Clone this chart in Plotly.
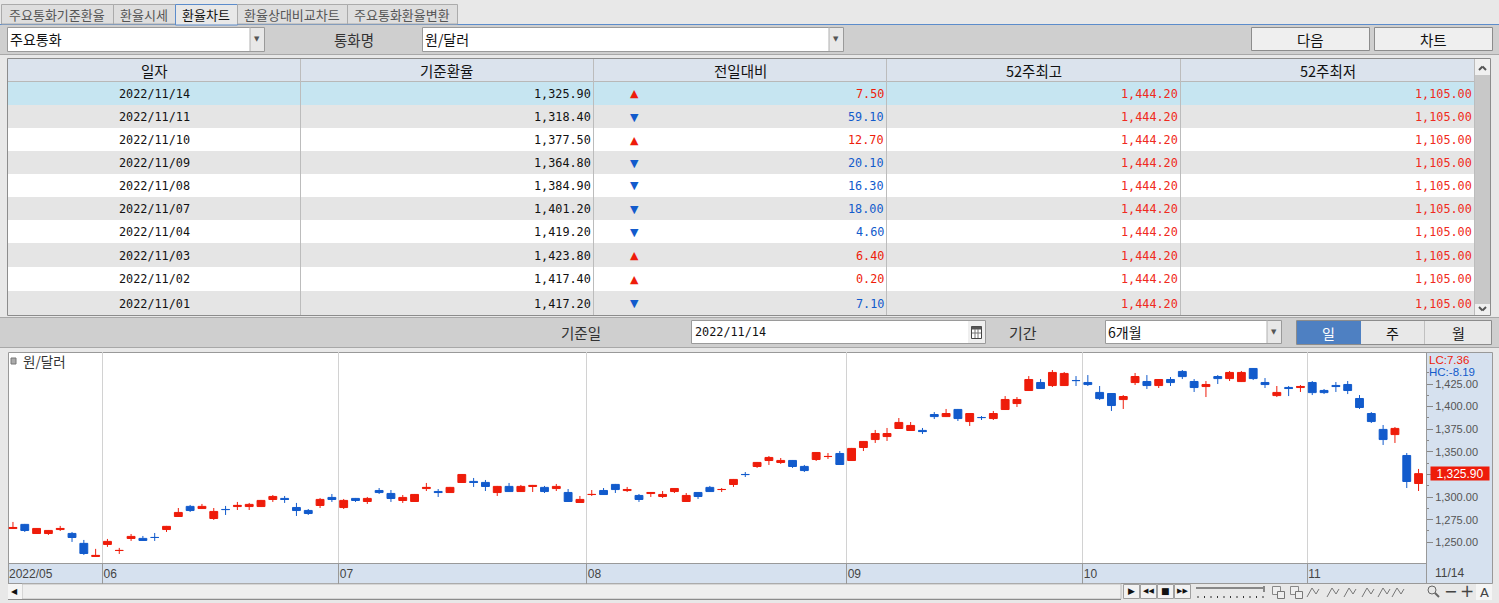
import plotly.graph_objects as go

W, H = 1499, 603
MONO = "DejaVu Sans Mono, Noto Sans CJK KR"
KR = "Noto Sans CJK KR, DejaVu Sans"
SANS = "Liberation Sans, Noto Sans CJK KR"
RED = "#ee1c0a"
BLUE = "#125bcc"

# chart data, one candle per trading day
opens = [
    1265.2, 1269.8, 1259.7, 1259.7, 1264.1, 1259.8, 1248.8, 1234.3, 1247.6, 1240.9,
    1254.2, 1254.3, 1255.4, 1264.1, 1278.5, 1289.7, 1287.3, 1276.3, 1286.3, 1289.5,
    1289.5, 1289.5, 1297.3, 1298.5, 1288.5, 1285.2, 1290.7, 1299.6, 1288.4, 1298.5,
    1295.1, 1307.3, 1304.0, 1296.2, 1295.1, 1309.4, 1306.2, 1305.0, 1316.1, 1317.3,
    1316.2, 1305.0, 1311.8, 1306.1, 1311.7, 1310.7, 1309.4, 1305.1, 1294.0, 1302.8,
    1307.3, 1314.0, 1307.2, 1301.8, 1303.9, 1300.6, 1306.1, 1295.1, 1305.1, 1310.7,
    1308.3, 1313.9, 1325.0, 1333.8, 1340.4, 1338.2, 1340.5, 1333.9, 1341.5, 1344.8,
    1348.2, 1340.4, 1354.8, 1363.6, 1366.9, 1375.8, 1373.6, 1373.7, 1391.3, 1389.0,
    1396.9, 1383.5, 1388.0, 1386.8, 1396.8, 1403.4, 1417.8, 1426.7, 1423.3, 1423.3,
    1428.9, 1426.7, 1415.7, 1414.5, 1407.8, 1426.6, 1427.8, 1423.3, 1430.0, 1438.9,
    1427.8, 1422.2, 1433.3, 1431.0, 1427.7, 1442.2, 1426.7, 1412.2, 1421.2, 1421.1,
    1426.7, 1417.9, 1423.4, 1424.5, 1409.0, 1392.4, 1374.8, 1369.1, 1346.0, 1315.0,
]
highs = [
    1272.5, 1270.3, 1265.8, 1263.6, 1268.1, 1261.4, 1252.6, 1242.7, 1253.7, 1243.8,
    1259.2, 1257.0, 1260.3, 1268.1, 1287.9, 1291.3, 1292.4, 1287.9, 1290.2, 1294.6,
    1293.5, 1296.8, 1302.3, 1301.2, 1293.5, 1286.8, 1299.0, 1303.4, 1297.9, 1299.0,
    1300.1, 1310.0, 1307.8, 1302.3, 1303.4, 1315.6, 1308.9, 1311.2, 1325.5, 1321.1,
    1318.9, 1312.3, 1315.6, 1313.4, 1313.4, 1312.3, 1314.5, 1308.9, 1301.2, 1307.8,
    1310.0, 1314.5, 1311.2, 1303.4, 1305.6, 1306.7, 1310.0, 1304.5, 1305.6, 1312.3,
    1310.0, 1320.0, 1327.7, 1338.8, 1345.4, 1343.2, 1341.0, 1335.5, 1349.8, 1348.7,
    1350.9, 1354.3, 1362.0, 1374.2, 1376.4, 1387.4, 1383.0, 1376.4, 1394.0, 1397.4,
    1397.4, 1392.9, 1389.6, 1395.2, 1411.7, 1410.6, 1433.8, 1430.5, 1440.5, 1438.3,
    1433.8, 1434.9, 1422.8, 1415.0, 1412.8, 1437.2, 1434.9, 1430.5, 1432.7, 1440.5,
    1430.5, 1428.3, 1434.9, 1439.4, 1439.4, 1442.7, 1431.6, 1422.8, 1422.8, 1423.9,
    1428.3, 1419.5, 1427.2, 1428.3, 1412.8, 1394.0, 1379.7, 1377.5, 1348.7, 1331.1,
]
lows = [
    1264.7, 1261.4, 1259.2, 1258.1, 1262.5, 1250.4, 1236.0, 1233.8, 1244.9, 1237.1,
    1251.5, 1251.5, 1251.5, 1261.4, 1278.0, 1283.5, 1286.8, 1274.7, 1280.2, 1285.7,
    1285.7, 1289.0, 1294.6, 1293.5, 1279.1, 1280.2, 1287.9, 1294.6, 1286.8, 1294.6,
    1292.4, 1303.4, 1294.6, 1293.5, 1294.6, 1306.7, 1300.1, 1304.5, 1315.6, 1311.2,
    1306.7, 1301.2, 1305.6, 1305.6, 1305.6, 1304.5, 1306.7, 1294.6, 1293.5, 1301.2,
    1302.3, 1304.5, 1305.6, 1294.6, 1300.1, 1299.0, 1304.5, 1294.6, 1297.9, 1305.6,
    1305.6, 1311.2, 1322.2, 1332.2, 1335.5, 1336.6, 1332.2, 1327.7, 1339.9, 1342.1,
    1335.5, 1339.9, 1350.9, 1359.8, 1362.0, 1375.3, 1373.1, 1369.7, 1386.3, 1388.5,
    1384.1, 1378.6, 1385.2, 1385.2, 1396.3, 1399.6, 1417.3, 1419.5, 1421.7, 1422.8,
    1422.8, 1422.8, 1407.3, 1395.2, 1397.4, 1423.9, 1419.5, 1420.6, 1422.8, 1430.5,
    1416.2, 1410.6, 1425.0, 1428.3, 1427.2, 1429.4, 1420.6, 1410.6, 1411.7, 1416.2,
    1412.8, 1413.9, 1416.2, 1413.9, 1397.4, 1381.9, 1357.6, 1359.8, 1310.0, 1306.7,
]
closes = [
    1266.4, 1263.0, 1265.3, 1263.1, 1265.3, 1255.3, 1237.6, 1235.5, 1251.0, 1241.0,
    1256.5, 1252.0, 1255.3, 1267.6, 1283.0, 1285.1, 1289.7, 1284.1, 1286.2, 1290.8,
    1291.9, 1296.3, 1300.7, 1297.3, 1285.1, 1281.8, 1297.4, 1297.3, 1296.3, 1296.2,
    1298.5, 1305.0, 1298.4, 1299.6, 1302.9, 1310.7, 1305.0, 1310.7, 1325.0, 1316.1,
    1311.7, 1311.8, 1306.1, 1311.8, 1312.9, 1306.1, 1311.8, 1295.1, 1297.4, 1302.9,
    1302.8, 1308.3, 1308.4, 1297.3, 1305.1, 1302.9, 1309.5, 1301.8, 1300.6, 1306.1,
    1308.4, 1319.5, 1324.9, 1338.3, 1343.8, 1340.5, 1333.8, 1329.3, 1349.3, 1344.9,
    1336.0, 1353.8, 1361.5, 1370.3, 1370.3, 1382.5, 1379.2, 1372.4, 1389.0, 1392.4,
    1386.8, 1392.4, 1387.9, 1392.4, 1407.9, 1407.9, 1430.0, 1420.0, 1437.8, 1436.7,
    1428.8, 1424.4, 1408.9, 1401.2, 1411.2, 1433.3, 1423.3, 1430.0, 1426.6, 1433.2,
    1421.1, 1424.5, 1431.0, 1437.8, 1437.8, 1431.0, 1424.4, 1415.7, 1420.0, 1422.3,
    1415.5, 1415.5, 1422.2, 1417.8, 1399.0, 1383.5, 1363.6, 1375.9, 1317.2, 1325.9,
]
month_first = [0, 8, 28, 49, 71, 91, 110]
month_labels = ["2022/05", "06", "07", "08", "09", "10", "11"]
price_ticks = [1250, 1275, 1300, 1325, 1350, 1375, 1400, 1425]
# 1,325.00 sits under the last price flag in the original
price_labels = ["1,250.00", "1,275.00", "1,300.00", "", "1,350.00", "1,375.00", "1,400.00", "1,425.00"]

# table data
columns = ["일자", "기준환율", "전일대비", "52주최고", "52주최저"]
dates = ["2022/11/14", "2022/11/11", "2022/11/10", "2022/11/09", "2022/11/08",
         "2022/11/07", "2022/11/04", "2022/11/03", "2022/11/02", "2022/11/01"]
rates = ["1,325.90", "1,318.40", "1,377.50", "1,364.80", "1,384.90",
         "1,401.20", "1,419.20", "1,423.80", "1,417.40", "1,417.20"]
changes = ["7.50", "59.10", "12.70", "20.10", "16.30", "18.00", "4.60", "6.40", "0.20", "7.10"]
up_flags = [True, False, True, False, False, False, False, True, True, False]
high_52 = "1,444.20"
low_52 = "1,105.00"

tabs = ["주요통화기준환율", "환율시세", "환율차트", "환율상대비교차트", "주요통화환율변환"]
tab_edges = [1, 113, 175, 237, 347, 457]

shapes = []
notes = []


def fx(x):
    return x / W


def fy(y):
    return 1 - y / H


def box(x0, y0, x1, y1, fill=None, line=None, kind="rect"):
    shapes.append(dict(type=kind, xref="paper", yref="paper", layer="below",
                       x0=fx(x0), x1=fx(x1), y0=fy(y0), y1=fy(y1),
                       fillcolor=fill or "rgba(0,0,0,0)",
                       line=dict(color=line or "rgba(0,0,0,0)", width=1 if line else 0)))


def seg(x0, y0, x1, y1, color="#999999", width=1):
    shapes.append(dict(type="line", xref="paper", yref="paper", layer="below",
                       x0=fx(x0), x1=fx(x1), y0=fy(y0), y1=fy(y1),
                       line=dict(color=color, width=width)))


def text(x, y, s, anchor="center", color="#111111", size=14, font=KR, **kw):
    notes.append(dict(x=fx(x), y=fy(y), xref="paper", yref="paper", text=s, showarrow=False,
                      xanchor=anchor, yanchor="middle", borderpad=0,
                      font=dict(family=font, size=size, color=color), **kw))


# top strip and tabs
box(0, 25, W, 54, "#cfcfcf")
seg(0, 54.5, W, 54.5, "#a8a8a8")
seg(0, 24.5, W, 24.5, "#5c8ccb", 1)
for i, name in enumerate(tabs):
    active = i == 2
    box(tab_edges[i] + 0.5, 4.5, tab_edges[i + 1] + 0.5, 25 if active else 24,
        "#e8e8e8" if active else "#dedede", "#5c8ccb" if active else "#ababab")
    text((tab_edges[i] + tab_edges[i + 1]) / 2, 14.5, name, color="#111111" if active else "#555555", size=13)


def combo(x0, y0, x1, y1, s):
    box(x0 + 0.5, y0 + 0.5, x1 + 0.5, y1 + 0.5, "#ffffff", "#9a9a9a")
    box(x1 - 14, y0 + 1, x1, y1, "#e8e8e8", None)
    seg(x1 - 14, y0, x1 - 14, y1, "#b0b0b0")
    text(x1 - 7, (y0 + y1) / 2 + 0.5, "▼", size=7, color="#555555", font="DejaVu Sans")
    text(x0 + 2, (y0 + y1) / 2, s, anchor="left", size=14, font=KR)


combo(7, 27, 264, 51, "주요통화")
combo(422, 27, 843, 51, "원/달러")
text(354, 39, "통화명", color="#333333", size=14.5)
for x0, x1, s in [(1251, 1369, "다음"), (1374, 1492, "차트")]:
    box(x0 + 0.5, 27.5, x1 + 0.5, 50.5, "#efefef", "#8c8c8c")
    text((x0 + x1) / 2, 39.5, s, size=14.5)

# table
row_tops = [82, 105, 128, 151, 174, 197, 220, 243, 267, 291, 315]
col_edges = [7.5, 300.5, 593.5, 886.5, 1180.5, 1474.5]
box(7.5, 58.5, 1490.5, 315.5, "#ffffff", "#8c8c8c")
box(8, 59, 1474, 82, "#dbe3ed")
for i in range(10):
    fill = "#c6e5f1" if i == 0 else ("#e5e5e5" if i % 2 else "#ffffff")
    box(8, row_tops[i], 1474, row_tops[i + 1], fill)
seg(8, 81.5, 1474, 81.5, "#b8b8b8")
for x in col_edges[1:]:
    seg(x, 59, x, 315, "#bcbcbc")
for i, name in enumerate(columns):
    text((col_edges[i] + col_edges[i + 1]) / 2, 70.5, name, size=14.5)
for i in range(10):
    y = (row_tops[i] + row_tops[i + 1]) / 2 + 0.5
    color = RED if up_flags[i] else BLUE
    text(154, y, dates[i], font=MONO, size=11.8)
    text(591.5, y, rates[i], anchor="right", font=MONO, size=11.8)
    text(634, y, "▲" if up_flags[i] else "▼", color=color, size=11, font="DejaVu Sans")
    text(885, y, changes[i], anchor="right", font=MONO, size=11.8, color=color)
    text(1178.5, y, high_52, anchor="right", font=MONO, size=11.8, color="#f02a20")
    text(1472.5, y, low_52, anchor="right", font=MONO, size=11.8, color="#f02a20")
# table scrollbar
box(1475, 75, 1490, 304, "#c8c8c8")
box(1475, 59, 1490, 75, "#f0f0f0")
box(1475, 304, 1490, 315, "#f0f0f0")
seg(1479, 70, 1482.5, 66.5, "#555555", 2)
seg(1482.5, 66.5, 1486, 70, "#555555", 2)
seg(1479, 307, 1482.5, 310.5, "#555555", 2)
seg(1482.5, 310.5, 1486, 307, "#555555", 2)

# date strip
box(0, 317, W, 348, "#cfcfcf")
seg(0, 317.5, W, 317.5, "#a8a8a8")
seg(0, 347.5, W, 347.5, "#a8a8a8")
text(581, 332, "기준일", color="#333333", size=14.5)
box(691.5, 320.5, 985.5, 343.5, "#ffffff", "#9a9a9a")
box(968, 321, 985, 343, "#efefef")
box(971.5, 326.5, 981.5, 338.5, "#ffffff", "#444444")
box(971.5, 326.5, 981.5, 329.5, "#555555")
seg(975, 329, 975, 338, "#777777")
seg(978, 329, 978, 338, "#777777")
seg(972, 333, 981, 333, "#777777")
text(694, 332, "2022/11/14", anchor="left", font=MONO, size=11.8)
text(1023, 332, "기간", color="#333333", size=15)
combo(1105, 320, 1281, 343, "6개월")
box(1296.5, 320.5, 1491.5, 344.5, "#e8e8e8", "#8c8c8c")
box(1297, 321, 1361, 344, "#4e80c2")
seg(1424.5, 321, 1424.5, 344, "#c0c0c0")
text(1328, 332.5, "일", color="#ffffff")
text(1392, 332.5, "주")
text(1458, 332.5, "월")

# chart frame
box(1426, 352, 1492, 583, "#d6e1ef")
box(8, 563, 1426, 583, "#d6e1ef")
box(8.5, 352.5, 1492.5, 583.5, None, "#999999")
box(11, 358, 16, 364, "#aaaaaa", "#777777")
text(22, 361, "원/달러", anchor="left", color="#333333", size=13.5)
text(1428, 359.5, "LC:7.36", anchor="left", color=RED, font=SANS, size=11.5)
text(1428, 372, "HC:-8.19", anchor="left", color=BLUE, font=SANS, size=11.5)
text(1449.5, 572.5, "11/14", color="#444444", font=SANS, size=12)
seg(1426.5, 563, 1426.5, 583, "#999999")

# bottom scroll bar and toolbar
box(22, 584, 1121, 599, "#efefef", "#bdbdbd")
seg(8, 599.5, 1121, 599.5, "#8c8c8c")
box(8, 584, 22, 599, "#f5f5f5")
text(14, 591.5, "◀", size=8, font="DejaVu Sans")
for x0, s in [(1124, "▶"), (1141, "◀◀"), (1158, "■"), (1175, "▶▶")]:
    box(x0 - 0.5, 584.5, x0 + 15.5, 598.5, "#f2f2f2", "#a0a0a0")
    text(x0 + 7.5, 591, s, size=7 if len(s) > 1 else 9, font="DejaVu Sans")
seg(1196, 588, 1264, 588, "#888888", 2)
seg(1264, 586, 1264, 592, "#888888", 2)
for k in range(0, 11):
    seg(1198 + k * 6.5, 596, 1198 + k * 6.5, 598, "#333333")
for x0 in [1272, 1290]:
    box(x0 + 0.5, 586.5, x0 + 8.5, 594.5, "#eeeeee", "#888888")
    box(x0 + 5.5, 591.5, x0 + 12.5, 598.5, "#eeeeee", "#777777")
for x0 in [1307, 1327, 1344, 1362, 1378, 1392]:
    seg(x0, 597, x0 + 5, 588, "#777777")
    seg(x0 + 5, 588, x0 + 9, 594, "#777777")
    seg(x0 + 9, 594, x0 + 12, 589, "#777777")
box(1428, 586, 1436, 594, None, "#666666", kind="circle")
seg(1435, 593, 1439, 597, "#666666", 2)
text(1450, 591, "−", size=16, color="#444444", font="DejaVu Sans")
text(1467, 591, "+", size=17, color="#444444", font="DejaVu Sans")
box(1476, 584, 1492, 600, "#f5f5f5")
text(1484, 592, "A", size=13, color="#444444", font="DejaVu Sans")

fig = go.Figure(
    go.Candlestick(
        x=list(range(len(opens))),
        open=opens,
        high=highs,
        low=lows,
        close=closes,
        whiskerwidth=0,
        increasing=dict(line=dict(color=RED, width=1), fillcolor=RED),
        decreasing=dict(line=dict(color=BLUE, width=1), fillcolor=BLUE),
        hoverinfo="skip",
    )
)

# last price flag, on the price scale
notes.append(dict(x=fx(1460), y=closes[-1], xref="paper", yref="y", text="1,325.90", showarrow=False,
                  xanchor="center", yanchor="middle", bgcolor=RED, width=58, height=13, borderpad=0,
                  font=dict(family=SANS, size=12, color="#ffffff")))

fig.update_layout(
    width=W,
    height=H,
    margin=dict(l=0, r=0, t=0, b=0),
    paper_bgcolor="#e8e8e8",
    plot_bgcolor="#ffffff",
    showlegend=False,
    boxgap=0.05,
    shapes=shapes,
    annotations=notes,
    xaxis=dict(
        domain=[fx(8), fx(1426)],
        range=[-0.42, 119.63],
        rangeslider=dict(visible=False),
        tickmode="array",
        tickvals=[i - 0.42 for i in month_first],
        ticktext=month_labels,
        showgrid=True,
        gridcolor="#d2d2d2",
        gridwidth=1,
        zeroline=False,
        showline=True,
        linecolor="#999999",
        ticks="outside",
        ticklen=20,
        tickcolor="#999999",
        ticklabelposition="outside right",
        tickfont=dict(family=SANS, size=12, color="#444444"),
    ),
    yaxis=dict(
        domain=[fy(563), fy(352)],
        range=[1227.1, 1460.4],
        side="right",
        tickmode="array",
        tickvals=price_ticks,
        ticktext=price_labels,
        showgrid=False,
        zeroline=False,
        showline=True,
        linecolor="#999999",
        ticks="outside",
        ticklen=6,
        tickcolor="#888888",
        tickfont=dict(family=SANS, size=11, color="#555555"),
        minor=dict(tickvals=[v + 12.5 for v in price_ticks], ticks="outside", ticklen=2, tickcolor="#888888"),
    ),
)

fig.write_html(
    "out.html",
    config=dict(displayModeBar=False),
    post_script="document.body.style.margin='0';document.body.style.overflow='hidden';",
)
